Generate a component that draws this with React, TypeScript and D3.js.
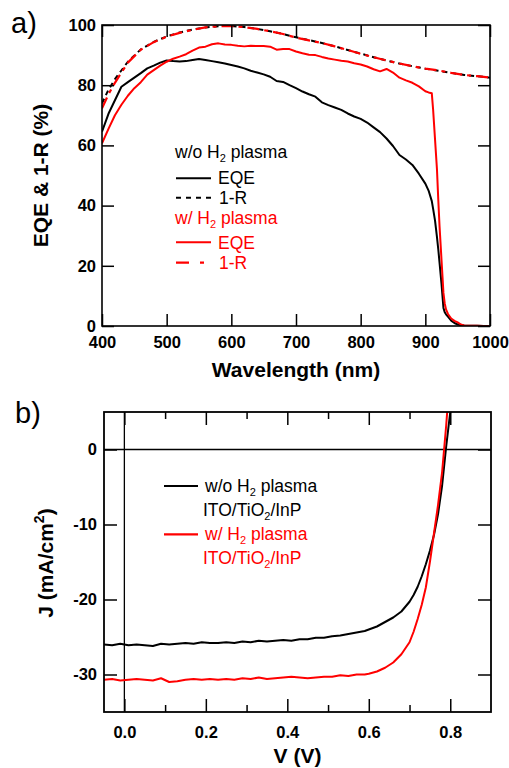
import * as React from 'react'
import * as d3 from 'd3'

const FONT = '"Liberation Sans", Arial, Helvetica, sans-serif'
const RED = '#ff0000'

// ---- panel a: EQE & 1-R vs wavelength ----
const eqeWavelength = [
  400, 410, 420, 430, 440, 450, 460, 470, 480, 490, 500, 510, 520, 530, 540, 550,
  560, 570, 580, 590, 600, 610, 620, 630, 640, 650, 660, 670, 680, 690, 700, 710,
  720, 730, 740, 750, 760, 770, 780, 790, 800, 810, 820, 830, 840, 850, 860, 870,
  880, 890, 900, 905, 910, 912, 915, 918, 920, 922, 925, 928, 930, 932, 935, 940,
  945, 950, 955, 960, 970, 980, 990, 1000
]
const eqeNoH2 = [
  64.6, 70.5, 75.0, 79.5, 81.0, 82.5, 84.0, 85.6, 86.5, 87.5, 88.2, 88.0, 87.9, 88.0, 88.4, 88.7,
  88.4, 88.0, 87.6, 87.2, 86.7, 86.2, 85.6, 84.8, 84.2, 83.6, 82.8, 81.4, 81.1, 80.0, 79.0, 77.9,
  77.0, 76.2, 74.3, 73.4, 72.6, 71.8, 70.6, 69.6, 68.8, 67.6, 66.0, 64.4, 62.3, 59.8, 56.8, 55.3,
  53.5, 50.6, 47.3, 45.0, 41.5, 39.0, 35.0, 29.5, 25.5, 21.0, 14.0, 6.0, 4.6, 3.9, 3.1, 1.8,
  1.0, 0.5, 0.3, 0.2, 0.1, 0.05, 0, 0
]
const eqeH2 = [
  60.7, 65.5, 70.0, 73.5, 76.5, 79.0, 81.0, 83.5, 85.0, 86.5, 87.8, 88.8, 89.5, 90.3, 91.5, 92.5,
  92.8, 93.6, 93.9, 93.5, 93.4, 93.1, 92.9, 93.1, 93.0, 93.0, 92.8, 91.8, 92.0, 92.0, 91.2, 90.6,
  90.1, 90.0, 89.4, 88.9, 88.5, 88.1, 87.9, 87.3, 86.9, 86.2, 85.3, 84.6, 85.4, 84.2, 82.5, 81.6,
  80.8, 79.6, 78.0, 77.6, 77.3, 72.0, 62.0, 52.0, 42.0, 33.0, 22.0, 11.0, 7.5, 5.5, 4.0, 2.5,
  1.7, 1.2, 0.5, 0.2, 0.1, 0.05, 0, 0
]
const reflWavelength = [
  400, 410, 420, 440, 460, 480, 500, 520, 540, 560, 580, 600, 620, 640, 660, 680,
  700, 720, 740, 760, 780, 800, 820, 840, 860, 880, 900, 920, 940, 960, 980, 1000
]
const oneMinusRNoH2 = [
  74.0, 78.5, 82.0, 87.8, 91.9, 94.4, 96.2, 97.5, 98.5, 99.2, 99.6, 99.7, 99.3, 98.7, 97.9, 97.0,
  95.9, 95.0, 94.0, 92.9, 91.7, 90.5, 89.3, 88.2, 87.2, 86.3, 85.5, 84.8, 84.1, 83.4, 83.0, 82.5
]
const oneMinusRH2 = [
  72.3, 77.0, 80.8, 87.5, 91.8, 94.3, 96.1, 97.4, 98.4, 99.2, 99.6, 99.7, 99.3, 98.7, 97.9, 97.0,
  95.8, 94.9, 94.0, 92.9, 91.7, 90.4, 89.3, 88.2, 87.2, 86.3, 85.5, 84.9, 84.1, 83.4, 83.0, 82.5
]
const wavelengthTicks = [400, 500, 600, 700, 800, 900, 1000]
const percentTicks = [0, 20, 40, 60, 80, 100]

// ---- panel b: J-V ----
const jvVoltage = [
  -0.05, -0.03, -0.01, 0.01, 0.03, 0.05, 0.07, 0.09, 0.11, 0.13, 0.15, 0.17, 0.19, 0.21, 0.23, 0.25,
  0.27, 0.29, 0.31, 0.33, 0.35, 0.37, 0.39, 0.41, 0.43, 0.45, 0.47, 0.49, 0.51, 0.53, 0.55, 0.57,
  0.59, 0.6, 0.62, 0.64, 0.66, 0.68, 0.7, 0.71, 0.72, 0.73, 0.74, 0.75, 0.76, 0.77, 0.78, 0.79,
  0.8, 0.81
]
const jNoH2 = [
  -26.0, -26.1, -25.9, -26.1, -26.0, -26.1, -26.2, -25.9, -26.0, -25.9, -25.8, -25.9, -25.7, -25.8, -25.8, -25.7,
  -25.8, -25.6, -25.7, -25.5, -25.6, -25.5, -25.4, -25.5, -25.3, -25.3, -25.1, -25.1, -24.9, -24.8, -24.6, -24.4,
  -24.2, -24.0, -23.6, -23.0, -22.4, -21.6, -20.3, -19.4, -18.3, -16.9, -15.3, -13.5, -11.4, -8.6, -4.8, 0.4,
  5.0, 9.5
]
const jH2 = [
  -30.7, -30.6, -30.8, -30.7, -30.6, -30.7, -30.8, -30.5, -31.0, -30.9, -30.7, -30.6, -30.7, -30.6, -30.7, -30.6,
  -30.7, -30.5, -30.6, -30.4, -30.6, -30.5, -30.4, -30.3, -30.4, -30.5, -30.4, -30.3, -30.3, -30.1, -30.2, -30.0,
  -30.0, -29.9, -29.6, -29.1, -28.4, -27.3, -25.7, -24.3, -22.6, -20.7, -18.4, -15.0, -11.2, -7.4, -3.0, 3.2,
  10.5, 17.0
]
const voltMajorTicks = [0, 0.2, 0.4, 0.6, 0.8]
const voltMinorTicks = [0.1, 0.3, 0.5, 0.7]
const currentTicks = [-30, -20, -10, 0]

// frame boxes
const A = { left: 102, right: 490, top: 25, bottom: 326 }
const B = { left: 104, right: 491, top: 412, bottom: 712 }

const xA = d3.scaleLinear().domain([400, 1000]).range([A.left, A.right])
const yA = d3.scaleLinear().domain([0, 100]).range([A.bottom, A.top])
const xB = d3.scaleLinear().domain([-0.05, 0.9]).range([B.left, B.right])
const yB = d3.scaleLinear().domain([-35, 5]).range([B.bottom, B.top])

function Axis({ axis, transform }: { axis: d3.Axis<any>; transform: string }) {
  const ref = React.useRef<SVGGElement>(null)
  React.useEffect(() => {
    const g = d3.select(ref.current)
    g.selectAll('*').remove()
    g.call(axis)
    g.select('.domain').remove()
    g.selectAll('line').attr('stroke', '#000').attr('stroke-width', 1.5)
    g.selectAll('text')
      .attr('font-family', FONT)
      .attr('font-size', 16.5)
      .attr('font-weight', 'bold')
      .attr('fill', '#000')
  })
  return <g ref={ref} transform={transform} />
}

function makeLine(xs: number[], sx: d3.ScaleLinear<number, number>, sy: d3.ScaleLinear<number, number>) {
  return d3
    .line<number>()
    .x((d, i) => sx(xs[i]))
    .y(d => sy(d))
}

const noLabel = () => ''
const plain = (d: any) => String(d)

export default function App() {
  const eqeLine = makeLine(eqeWavelength, xA, yA)
  const reflLine = makeLine(reflWavelength, xA, yA)
  const jvLine = makeLine(jvVoltage, xB, yB)
  const txt = { fontFamily: FONT, fontSize: 17.5 }
  const sub = { fontSize: 11 }

  return (
    <svg
      width={509}
      height={768}
      style={{ position: 'absolute', left: 0, top: 0, background: '#fff' }}
    >
      <defs>
        <clipPath id="clip-a">
          <rect x={A.left} y={A.top} width={A.right - A.left} height={A.bottom - A.top} />
        </clipPath>
        <clipPath id="clip-b">
          <rect x={B.left} y={B.top} width={B.right - B.left} height={B.bottom - B.top} />
        </clipPath>
      </defs>

      {/* ================= panel a ================= */}
      <text x={11} y={33} fontFamily={FONT} fontSize={29}>a)</text>
      <g clipPath="url(#clip-a)" fill="none" strokeLinejoin="round">
        <path d={eqeLine(eqeNoH2) || ''} stroke="#000" strokeWidth={2} />
        <path d={reflLine(oneMinusRNoH2) || ''} stroke="#000" strokeWidth={2} strokeDasharray="5,4" />
        <path d={eqeLine(eqeH2) || ''} stroke={RED} strokeWidth={2} />
        <path d={reflLine(oneMinusRH2) || ''} stroke={RED} strokeWidth={2.2} strokeDasharray="12,5,4,5" />
      </g>
      <Axis
        axis={d3.axisBottom(xA).tickValues(wavelengthTicks).tickSizeInner(-12).tickSizeOuter(0).tickPadding(10)
          .tickFormat(plain)}
        transform={`translate(0,${A.bottom})`}
      />
      <Axis
        axis={d3.axisTop(xA).tickValues(wavelengthTicks).tickSizeInner(-12).tickSizeOuter(0).tickFormat(noLabel)}
        transform={`translate(0,${A.top})`}
      />
      <Axis
        axis={d3.axisLeft(yA).tickValues(percentTicks).tickSizeInner(-12).tickSizeOuter(0).tickPadding(6)
          .tickFormat(plain)}
        transform={`translate(${A.left},0)`}
      />
      <Axis
        axis={d3.axisRight(yA).tickValues(percentTicks).tickSizeInner(-12).tickSizeOuter(0).tickFormat(noLabel)}
        transform={`translate(${A.right},0)`}
      />
      <rect
        x={A.left}
        y={A.top}
        width={A.right - A.left}
        height={A.bottom - A.top}
        fill="none"
        stroke="#000"
        strokeWidth={1.6}
      />
      <text
        x={(A.left + A.right) / 2}
        y={377}
        textAnchor="middle"
        fontFamily={FONT}
        fontSize={21}
        fontWeight="bold"
      >
        Wavelength (nm)
      </text>
      <text
        transform="translate(48,175.5) rotate(-90)"
        textAnchor="middle"
        fontFamily={FONT}
        fontSize={21}
        fontWeight="bold"
      >
        EQE &amp; 1-R (%)
      </text>

      {/* legend a */}
      <g style={txt}>
        <text x={175} y={158}>
          w/o H<tspan dy={4} style={sub}>2</tspan><tspan dy={-4}> plasma</tspan>
        </text>
        <line x1={176} x2={211} y1={178.3} y2={178.3} stroke="#000" strokeWidth={2} />
        <text x={218} y={184}>EQE</text>
        <line x1={176} x2={211} y1={197.7} y2={197.7} stroke="#000" strokeWidth={2} strokeDasharray="5,5" />
        <text x={219} y={204}>1-R</text>
        <text x={175} y={224} fill={RED}>
          w/ H<tspan dy={4} style={sub}>2</tspan><tspan dy={-4}> plasma</tspan>
        </text>
        <line x1={176} x2={211} y1={242.3} y2={242.3} stroke={RED} strokeWidth={2} />
        <text x={218} y={249} fill={RED}>EQE</text>
        <line x1={176} x2={211} y1={262.7} y2={262.7} stroke={RED} strokeWidth={2.2} strokeDasharray="13,11,4,20" />
        <text x={219} y={269} fill={RED}>1-R</text>
      </g>

      {/* ================= panel b ================= */}
      <text x={15} y={423} fontFamily={FONT} fontSize={29}>b)</text>
      <line x1={B.left} x2={B.right} y1={yB(0)} y2={yB(0)} stroke="#000" strokeWidth={1.3} />
      <line x1={xB(0)} x2={xB(0)} y1={B.top} y2={B.bottom} stroke="#000" strokeWidth={1.3} />
      <g clipPath="url(#clip-b)" fill="none" strokeLinejoin="round">
        <path d={jvLine(jNoH2) || ''} stroke="#000" strokeWidth={2} />
        <path d={jvLine(jH2) || ''} stroke={RED} strokeWidth={2} />
      </g>
      <Axis
        axis={d3.axisBottom(xB).tickValues(voltMajorTicks).tickSizeInner(-13).tickSizeOuter(0).tickPadding(14)
          .tickFormat(d => (d as number).toFixed(1))}
        transform={`translate(0,${B.bottom})`}
      />
      <Axis
        axis={d3.axisBottom(xB).tickValues(voltMinorTicks).tickSizeInner(-7).tickSizeOuter(0).tickFormat(noLabel)}
        transform={`translate(0,${B.bottom})`}
      />
      <Axis
        axis={d3.axisTop(xB).tickValues(voltMajorTicks).tickSizeInner(-13).tickSizeOuter(0).tickFormat(noLabel)}
        transform={`translate(0,${B.top})`}
      />
      <Axis
        axis={d3.axisTop(xB).tickValues(voltMinorTicks).tickSizeInner(-7).tickSizeOuter(0).tickFormat(noLabel)}
        transform={`translate(0,${B.top})`}
      />
      <Axis
        axis={d3.axisLeft(yB).tickValues(currentTicks).tickSizeInner(-13).tickSizeOuter(0).tickPadding(7)
          .tickFormat(plain)}
        transform={`translate(${B.left},0)`}
      />
      <Axis
        axis={d3.axisRight(yB).tickValues(currentTicks).tickSizeInner(-13).tickSizeOuter(0).tickFormat(noLabel)}
        transform={`translate(${B.right},0)`}
      />
      <rect
        x={B.left}
        y={B.top}
        width={B.right - B.left}
        height={B.bottom - B.top}
        fill="none"
        stroke="#000"
        strokeWidth={1.8}
      />
      <text
        x={(B.left + B.right) / 2}
        y={763}
        textAnchor="middle"
        fontFamily={FONT}
        fontSize={21}
        fontWeight="bold"
      >
        V (V)
      </text>
      <text
        transform="translate(53,563) rotate(-90)"
        textAnchor="middle"
        fontFamily={FONT}
        fontSize={21}
        fontWeight="bold"
      >
        J (mA/cm<tspan dy={-9} style={{ fontSize: 14 }}>2</tspan><tspan dy={9}>)</tspan>
      </text>

      {/* legend b */}
      <g style={txt}>
        <line x1={164} x2={198} y1={486} y2={486} stroke="#000" strokeWidth={2.2} />
        <text x={205} y={491.5}>
          w/o H<tspan dy={4} style={sub}>2</tspan><tspan dy={-4}> plasma</tspan>
        </text>
        <text x={203} y={516}>
          ITO/TiO<tspan dy={4} style={sub}>2</tspan><tspan dy={-4}>/InP</tspan>
        </text>
        <line x1={164} x2={198} y1={534.3} y2={534.3} stroke={RED} strokeWidth={2.2} />
        <text x={205} y={540} fill={RED}>
          w/ H<tspan dy={4} style={sub}>2</tspan><tspan dy={-4}> plasma</tspan>
        </text>
        <text x={203} y={564} fill={RED}>
          ITO/TiO<tspan dy={4} style={sub}>2</tspan><tspan dy={-4}>/InP</tspan>
        </text>
      </g>
    </svg>
  )
}
